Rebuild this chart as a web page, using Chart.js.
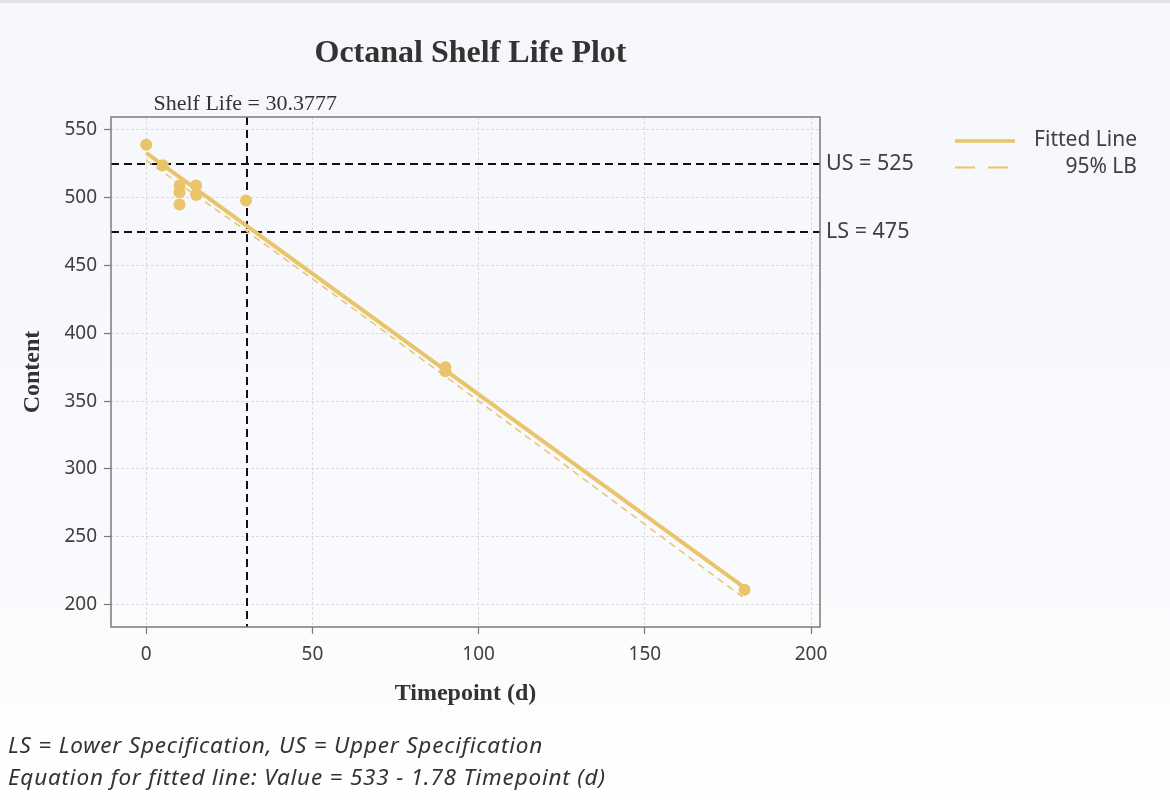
<!DOCTYPE html>
<html>
<head>
<meta charset="utf-8">
<title>Octanal Shelf Life Plot</title>
<script src="https://cdn.jsdelivr.net/npm/chart.js@4.4.1/dist/chart.umd.min.js"></script>
<style>
  html, body { margin: 0; padding: 0; }
  body {
    width: 1170px; height: 801px; overflow: hidden; position: relative;
    background: linear-gradient(#f6f7fb 0%, #f9fafd 70%, #ffffff 100%);
    font-family: "Noto Sans", sans-serif;
  }
  .topbar { position: absolute; left: 0; top: 0; width: 1170px; height: 3px; background: #e2e3e7; }
  #wrap { position: absolute; left: 0; top: 0; width: 1170px; height: 801px; }
  .title {
    position: absolute; top: 35px; left: 0; width: 941px; text-align: center;
    font: bold 32px/32px "Liberation Serif", "Times New Roman", serif; color: #333;
  }
  .foot {
    position: absolute; left: 8px; white-space: nowrap; letter-spacing: 0.8px;
    font: italic 22.5px/28px "Noto Sans", sans-serif; color: #333;
  }
</style>
</head>
<body>
<div class="topbar"></div>
<div id="wrap"><canvas id="chart"></canvas></div>
<div class="title">Octanal Shelf Life Plot</div>
<div class="foot" style="top:731px">LS = Lower Specification, US = Upper Specification</div>
<div class="foot" style="top:763px">Equation for fitted line: Value = 533 - 1.78 Timepoint (d)</div>
<script>
// Observed stability results
const timepoints = [0, 5, 10, 10, 10, 15, 15, 30, 90, 90, 180];
const contents   = [539, 524, 509, 504, 495, 509, 502, 498, 375, 372, 211];

// Fitted regression line: Value = 533 - 1.78 * Timepoint
const fitIntercept = 533;
const fitSlope = -1.78;

// One-sided 95% lower confidence bound of the fit
const lbTimes  = [0, 30, 60, 90, 120, 150, 180];
const lbValues = [527.5, 475.7, 422.3, 368.2, 313.8, 259.2, 204.6];

// Specification limits and estimated shelf life
const upperSpec = 525;
const lowerSpec = 475;
const shelfLife = 30.3777;

// Axis ticks
const xTicks = [0, 50, 100, 150, 200];
const yTicks = [200, 250, 300, 350, 400, 450, 500, 550];

const gold = '#E9C46A';
const tMin = Math.min(...timepoints), tMax = Math.max(...timepoints);

const pointData = timepoints.map((t, i) => ({ x: t, y: contents[i] }));
const fitData = [tMin, tMax].map(t => ({ x: t, y: fitIntercept + fitSlope * t }));
const lbData = lbTimes.map((t, i) => ({ x: t, y: lbValues[i] }));

const refPlugin = {
  id: 'specRefs',
  beforeDatasetsDraw(chart) {
    const { ctx, chartArea: a, scales: { x, y } } = chart;
    ctx.save();
    ctx.beginPath();
    ctx.rect(a.left, a.top, a.width, a.height);
    ctx.clip();
    ctx.strokeStyle = '#111';
    ctx.lineWidth = 2;
    ctx.setLineDash([8, 5]);
    [upperSpec, lowerSpec].forEach(v => {
      const py = Math.round(y.getPixelForValue(v));
      ctx.beginPath();
      ctx.moveTo(a.left, py);
      ctx.lineTo(a.right, py);
      ctx.stroke();
    });
    const px = Math.round(x.getPixelForValue(shelfLife));
    ctx.beginPath();
    ctx.moveTo(px, a.top);
    ctx.lineTo(px, a.bottom);
    ctx.stroke();
    ctx.restore();
  },
  afterDraw(chart) {
    const { ctx, chartArea: a, scales: { x, y } } = chart;
    ctx.save();
    // plot frame
    ctx.strokeStyle = '#7b7b7b';
    ctx.lineWidth = 1.5;
    ctx.setLineDash([]);
    ctx.strokeRect(a.left, a.top, a.width, a.height);

    // spec limit labels
    ctx.fillStyle = '#404040';
    ctx.font = '21.5px "Noto Sans", sans-serif';
    ctx.textAlign = 'left';
    ctx.textBaseline = 'middle';
    ctx.fillText('US = ' + upperSpec, a.right + 6, y.getPixelForValue(upperSpec));
    ctx.fillText('LS = ' + lowerSpec, a.right + 6, y.getPixelForValue(lowerSpec));

    // shelf life label above the plot
    ctx.fillStyle = '#333';
    ctx.font = '22px "Liberation Serif", "Times New Roman", serif';
    ctx.textAlign = 'center';
    ctx.textBaseline = 'alphabetic';
    ctx.fillText('Shelf Life = ' + shelfLife, x.getPixelForValue(shelfLife) - 2, a.top - 7);

    // legend
    const lx0 = 955, lx1 = 1015, textRight = 1137;
    ctx.strokeStyle = gold;
    ctx.lineWidth = 3.5;
    ctx.beginPath(); ctx.moveTo(lx0, 141); ctx.lineTo(lx1, 141); ctx.stroke();
    ctx.lineWidth = 2;
    ctx.setLineDash([20, 13]);
    ctx.beginPath(); ctx.moveTo(lx0, 167.5); ctx.lineTo(lx0 + 53, 167.5); ctx.stroke();
    ctx.setLineDash([]);
    ctx.fillStyle = '#404040';
    ctx.font = '21px "Noto Sans", sans-serif';
    ctx.textAlign = 'right';
    ctx.textBaseline = 'middle';
    ctx.fillText('Fitted Line', textRight, 140);
    ctx.fillText('95% LB', textRight, 167);
    ctx.restore();
  }
};

new Chart(document.getElementById('chart'), {
  type: 'scatter',
  data: {
    datasets: [
      {
        label: '95% LB',
        data: lbData,
        showLine: true,
        borderColor: gold,
        borderWidth: 1.5,
        borderDash: [7, 5],
        pointRadius: 0,
        fill: false,
        order: 3
      },
      {
        label: 'Fitted Line',
        data: fitData,
        showLine: true,
        borderColor: gold,
        borderWidth: 4,
        pointRadius: 0,
        fill: false,
        order: 2
      },
      {
        label: 'Content',
        data: pointData,
        backgroundColor: gold,
        borderColor: gold,
        borderWidth: 0,
        pointRadius: 6,
        order: 1
      }
    ]
  },
  options: {
    responsive: true,
    maintainAspectRatio: false,
    animation: false,
    events: [],
    layout: { padding: { left: 0, top: 117, right: 350, bottom: 0 } },
    plugins: { legend: { display: false }, tooltip: { enabled: false } },
    scales: {
      x: {
        type: 'linear',
        min: -10.6,
        max: 202.7,
        afterFit(s) { s.height = 174; },
        afterBuildTicks(s) { s.ticks = xTicks.map(v => ({ value: v })); },
        ticks: {
          includeBounds: false,
          padding: 9,
          color: '#404040',
          font: { family: '"Noto Sans", sans-serif', size: 19 }
        },
        grid: {
          color: '#dcdcdc',
          lineWidth: 1,
          tickLength: 7,
          tickColor: '#7b7b7b',
          tickWidth: 1.2,
          tickBorderDash: []
        },
        border: { display: false, dash: [3, 2] },
        title: {
          display: true,
          text: 'Timepoint (d)',
          color: '#333',
          padding: { top: 0, bottom: 93 },
          font: { family: '"Liberation Serif", "Times New Roman", serif', size: 24, weight: 'bold' }
        }
      },
      y: {
        type: 'linear',
        min: 183.5,
        max: 559.5,
        afterFit(s) { s.width = 111; },
        afterBuildTicks(s) { s.ticks = yTicks.map(v => ({ value: v })); },
        ticks: {
          includeBounds: false,
          padding: 7,
          color: '#404040',
          font: { family: '"Noto Sans", sans-serif', size: 19 }
        },
        grid: {
          color: '#dcdcdc',
          lineWidth: 1,
          tickLength: 7,
          tickColor: '#7b7b7b',
          tickWidth: 1.2,
          tickBorderDash: []
        },
        border: { display: false, dash: [3, 2] },
        title: {
          display: true,
          text: 'Content',
          color: '#333',
          padding: { top: 18, bottom: 0 },
          font: { family: '"Liberation Serif", "Times New Roman", serif', size: 24, weight: 'bold' }
        }
      }
    }
  },
  plugins: [refPlugin]
});
</script>
</body>
</html>
